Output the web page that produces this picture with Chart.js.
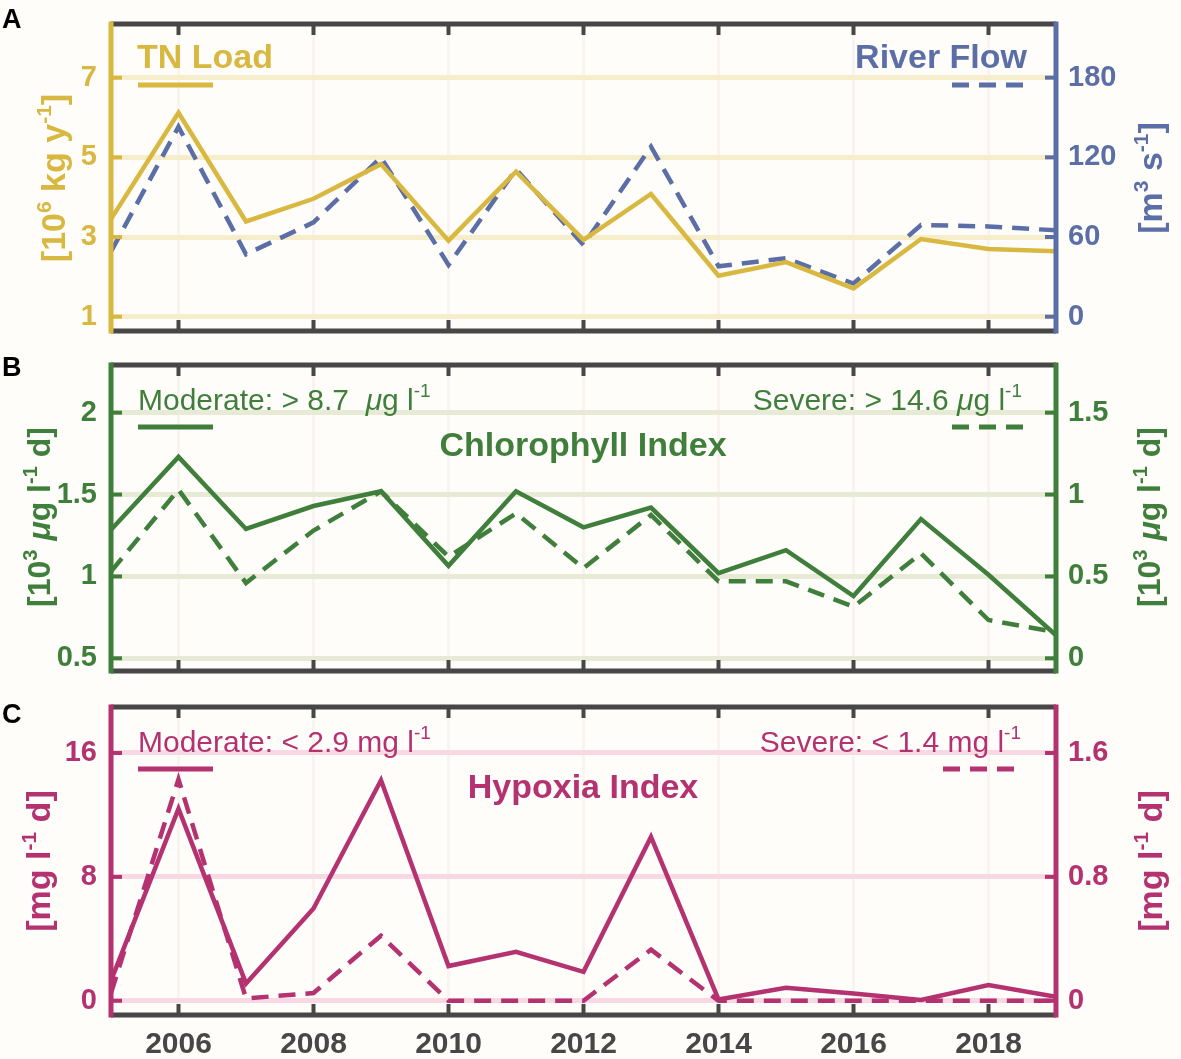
<!DOCTYPE html>
<html>
<head>
<meta charset="utf-8">
<script src="https://cdn.jsdelivr.net/npm/chart.js@4.4.1/dist/chart.umd.min.js"></script>
<style>
  body { margin: 0; background: #fefdf9; }
  #wrap { position: relative; width: 1181px; height: 1059px; }
  canvas { position: absolute; left: 0; }
</style>
</head>
<body>
<div id="wrap">
  <canvas id="panelA" width="1181" height="345" style="top:0px"></canvas>
  <canvas id="panelB" width="1181" height="345" style="top:345px"></canvas>
  <canvas id="panelC" width="1181" height="369" style="top:690px"></canvas>
</div>
<script>
// data
const years = [2005, 2006, 2007, 2008, 2009, 2010, 2011, 2012, 2013, 2014, 2015, 2016, 2017, 2018, 2019];
const yearTicks = [2006, 2008, 2010, 2012, 2014, 2016, 2018];

const tnLoad = [3.45, 6.12, 3.39, 3.96, 4.83, 2.91, 4.64, 2.93, 4.08, 2.03, 2.37, 1.71, 2.95, 2.70, 2.64];
const riverFlow = [49, 143, 47, 71, 120, 39, 111, 54, 128, 38, 44, 25, 69, 68, 65];
const tnTicks = [1, 3, 5, 7];
const flowTicks = [0, 60, 120, 180];

const chlModerate = [1.285, 1.73, 1.29, 1.43, 1.52, 1.065, 1.52, 1.30, 1.42, 1.02, 1.16, 0.88, 1.35, 1.01, 0.64];
const chlSevere = [0.53, 1.03, 0.46, 0.78, 1.02, 0.62, 0.885, 0.55, 0.875, 0.47, 0.47, 0.315, 0.64, 0.234, 0.16];
const chlModTicks = [0.5, 1, 1.5, 2];
const chlSevTicks = [0, 0.5, 1, 1.5];

const hypModerate = [1.3, 12.4, 1.12, 5.96, 14.24, 2.24, 3.16, 1.87, 10.58, 0.09, 0.84, 0.47, 0.05, 1.01, 0.26];
const hypSevere = [0.05, 1.43, 0.015, 0.05, 0.42, 0, 0, 0, 0.33, 0, 0, 0, 0, 0, 0];
const hypModTicks = [0, 8, 16];
const hypSevTicks = [0, 0.8, 1.6];

const FONT = '"Liberation Sans", Arial, sans-serif';
const FRAME = '#474747';
const DASH = [17, 10];
const W = 1181;

const toPoints = (vals) => years.map((x, i) => ({ x: x, y: vals[i] }));

function partFont(p, size, weight) {
  const s = p[1] === 'sup' ? Math.round(size * 0.62) : size;
  return (p[1] === 'it' ? 'italic ' : '') + weight + ' ' + s + 'px ' + FONT;
}

// text with superscripts / italic bits, optionally rotated
function drawRich(ctx, t) {
  ctx.save();
  ctx.fillStyle = t.color;
  ctx.textBaseline = 'alphabetic';
  ctx.textAlign = 'left';
  let total = 0;
  t.parts.forEach((p) => {
    ctx.font = partFont(p, t.size, t.weight);
    total += ctx.measureText(p[0]).width;
  });
  ctx.translate(t.x, t.y);
  if (t.rotate) ctx.rotate(-Math.PI / 2);
  let cx = t.align === 'center' ? -total / 2 : t.align === 'right' ? -total : 0;
  t.parts.forEach((p) => {
    ctx.font = partFont(p, t.size, t.weight);
    const dy = p[1] === 'sup' ? -t.size * 0.42 : 0;
    ctx.fillText(p[0], cx, dy);
    cx += ctx.measureText(p[0]).width;
  });
  ctx.restore();
}

const panelDeco = {
  id: 'panelDeco',
  afterDatasetsDraw(chart, args, opts) {
    const { ctx, chartArea: a, scales } = chart;
    const seg = (x1, y1, x2, y2) => { ctx.beginPath(); ctx.moveTo(x1, y1); ctx.lineTo(x2, y2); ctx.stroke(); };
    ctx.save();
    ctx.lineCap = 'butt';
    ctx.setLineDash([]);

    // top / bottom frame + year ticks
    ctx.strokeStyle = FRAME;
    ctx.lineWidth = 5;
    seg(a.left, a.top, a.right, a.top);
    seg(a.left, a.bottom, a.right, a.bottom);
    ctx.lineWidth = 4;
    yearTicks.forEach((v) => {
      const px = scales.x.getPixelForValue(v);
      seg(px, a.top, px, a.top + 11);
      seg(px, a.bottom, px, a.bottom - 11);
    });

    // coloured y axes with inward ticks
    ctx.lineWidth = 5;
    ctx.strokeStyle = opts.leftColor;
    seg(a.left, a.top - 2.5, a.left, a.bottom + 2.5);
    ctx.strokeStyle = opts.rightColor;
    seg(a.right, a.top - 2.5, a.right, a.bottom + 2.5);
    ctx.lineWidth = 4;
    ctx.strokeStyle = opts.leftColor;
    opts.leftTicks.forEach((v) => {
      const py = scales.yL.getPixelForValue(v);
      seg(a.left, py, a.left + 11, py);
    });
    ctx.strokeStyle = opts.rightColor;
    opts.rightTicks.forEach((v) => {
      const py = scales.yR.getPixelForValue(v);
      seg(a.right, py, a.right - 11, py);
    });

    // legend strokes
    opts.keys.forEach((k) => {
      ctx.strokeStyle = k.color;
      ctx.lineWidth = 5;
      ctx.setLineDash(k.dash ? DASH : []);
      seg(k.x1, k.y, k.x2, k.y);
    });
    ctx.setLineDash([]);
    ctx.restore();

    opts.texts.forEach((t) => drawRich(ctx, t));
  }
};

function makePanel(id, p) {
  const fixedTicks = (vals) => (s) => { s.ticks = vals.map((v) => ({ value: v })); };
  return new Chart(document.getElementById(id), {
    type: 'line',
    data: {
      datasets: [
        {
          data: toPoints(p.leftData), yAxisID: 'yL',
          borderColor: p.leftColor, borderWidth: 4.5, pointRadius: 0, tension: 0
        },
        {
          data: toPoints(p.rightData), yAxisID: 'yR',
          borderColor: p.rightColor, borderWidth: 4.5, borderDash: DASH, pointRadius: 0, tension: 0
        }
      ]
    },
    options: {
      responsive: false,
      animation: false,
      devicePixelRatio: 1,
      layout: { padding: { top: p.top, left: 0, right: 0, bottom: 0 } },
      plugins: {
        legend: { display: false },
        tooltip: { enabled: false },
        panelDeco: {
          leftColor: p.leftColor, rightColor: p.rightColor,
          leftTicks: p.leftTicks, rightTicks: p.rightTicks,
          keys: p.keys, texts: p.texts
        }
      },
      scales: {
        x: {
          type: 'linear', min: 2005, max: 2019,
          afterBuildTicks: fixedTicks(yearTicks),
          ticks: {
            display: p.showYears, color: FRAME, padding: 12,
            font: { family: FONT, size: 30, weight: 'bold' },
            callback: (v) => String(v)
          },
          grid: { color: 'rgba(242, 226, 220, 0.35)', lineWidth: 3, drawTicks: false },
          border: { display: false },
          afterFit: (s) => { s.height = p.xHeight; s.paddingLeft = 0; s.paddingRight = 0; }
        },
        yL: {
          type: 'linear', position: 'left', min: p.leftMin, max: p.leftMax,
          afterBuildTicks: fixedTicks(p.leftTicks),
          ticks: {
            color: p.leftColor, padding: 14, font: { family: FONT, size: 29, weight: 'bold' },
            callback: (v) => String(v)
          },
          grid: { color: p.gridColor, lineWidth: 5, drawTicks: false },
          border: { display: false },
          afterFit: (s) => { s.width = 111; s.paddingTop = 0; s.paddingBottom = 0; }
        },
        yR: {
          type: 'linear', position: 'right', min: p.rightMin, max: p.rightMax,
          afterBuildTicks: fixedTicks(p.rightTicks),
          ticks: {
            color: p.rightColor, padding: 12, font: { family: FONT, size: 29, weight: 'bold' },
            callback: (v) => String(v)
          },
          grid: { display: false, drawTicks: false },
          border: { display: false },
          afterFit: (s) => { s.width = W - 1056; s.paddingTop = 0; s.paddingBottom = 0; }
        }
      }
    },
    plugins: [panelDeco]
  });
}

const yellow = '#d8b840', blue = '#5b6fa6', green = '#3f7f3b', magenta = '#b3326f';

makePanel('panelA', {
  top: 24, xHeight: 14, showYears: false,
  leftData: tnLoad, rightData: riverFlow,
  leftColor: yellow, rightColor: blue, gridColor: '#f6eecb',
  leftMin: 0.641, leftMax: 8.348, rightMin: -10.77, rightMax: 220.4,
  leftTicks: tnTicks, rightTicks: flowTicks,
  keys: [
    { x1: 138, x2: 213, y: 85, color: yellow, dash: false },
    { x1: 952, x2: 1027, y: 85, color: blue, dash: true }
  ],
  texts: [
    { parts: [['A']], x: 2, y: 28, size: 27, weight: 'bold', color: '#000' },
    { parts: [['TN Load']], x: 137, y: 68, size: 34, weight: 'bold', color: yellow },
    { parts: [['River Flow']], x: 1027, y: 68, size: 34, weight: 'bold', color: blue, align: 'right' },
    { parts: [['[10'], ['6', 'sup'], [' kg y'], ['-1', 'sup'], [']']], x: 65, y: 178, size: 34, weight: 'bold', color: yellow, align: 'center', rotate: true },
    { parts: [['[m'], ['3', 'sup'], [' s'], ['-1', 'sup'], [']']], x: 1162, y: 178, size: 34, weight: 'bold', color: blue, align: 'center', rotate: true }
  ]
});

makePanel('panelB', {
  top: 20, xHeight: 19, showYears: false,
  leftData: chlModerate, rightData: chlSevere,
  leftColor: green, rightColor: green, gridColor: '#e7ebd5',
  leftMin: 0.4225, leftMax: 2.291, rightMin: -0.0775, rightMax: 1.791,
  leftTicks: chlModTicks, rightTicks: chlSevTicks,
  keys: [
    { x1: 138, x2: 213, y: 82, color: green, dash: false },
    { x1: 952, x2: 1027, y: 82, color: green, dash: true }
  ],
  texts: [
    { parts: [['B']], x: 2, y: 31, size: 27, weight: 'bold', color: '#000' },
    { parts: [['Moderate: > 8.7  '], ['\u03bc', 'it'], ['g l'], ['-1', 'sup']], x: 138, y: 65, size: 30, weight: 'normal', color: green },
    { parts: [['Severe: > 14.6 '], ['\u03bc', 'it'], ['g l'], ['-1', 'sup']], x: 1022, y: 65, size: 30, weight: 'normal', color: green, align: 'right' },
    { parts: [['Chlorophyll Index']], x: 583, y: 111, size: 34, weight: 'bold', color: green, align: 'center' },
    { parts: [['[10'], ['3', 'sup'], [' '], ['\u03bc', 'it'], ['g l'], ['-1', 'sup'], [' d]']], x: 50, y: 172, size: 32, weight: 'bold', color: green, align: 'center', rotate: true },
    { parts: [['[10'], ['3', 'sup'], [' '], ['\u03bc', 'it'], ['g l'], ['-1', 'sup'], [' d]']], x: 1160, y: 172, size: 32, weight: 'bold', color: green, align: 'center', rotate: true }
  ]
});

makePanel('panelC', {
  top: 17, xHeight: 44, showYears: true,
  leftData: hypModerate, rightData: hypSevere,
  leftColor: magenta, rightColor: magenta, gridColor: '#f8d8e2',
  leftMin: -0.92, leftMax: 18.97, rightMin: -0.092, rightMax: 1.897,
  leftTicks: hypModTicks, rightTicks: hypSevTicks,
  keys: [
    { x1: 138, x2: 213, y: 79, color: magenta, dash: false },
    { x1: 943, x2: 1018, y: 79, color: magenta, dash: true }
  ],
  texts: [
    { parts: [['C']], x: 2, y: 33, size: 27, weight: 'bold', color: '#000' },
    { parts: [['Moderate: < 2.9 mg l'], ['-1', 'sup']], x: 138, y: 62, size: 30, weight: 'normal', color: magenta },
    { parts: [['Severe: < 1.4 mg l'], ['-1', 'sup']], x: 1021, y: 62, size: 30, weight: 'normal', color: magenta, align: 'right' },
    { parts: [['Hypoxia Index']], x: 583, y: 108, size: 34, weight: 'bold', color: magenta, align: 'center' },
    { parts: [['[mg l'], ['-1', 'sup'], [' d]']], x: 50, y: 171, size: 34, weight: 'bold', color: magenta, align: 'center', rotate: true },
    { parts: [['[mg l'], ['-1', 'sup'], [' d]']], x: 1162, y: 171, size: 34, weight: 'bold', color: magenta, align: 'center', rotate: true }
  ]
});
</script>
</body>
</html>
